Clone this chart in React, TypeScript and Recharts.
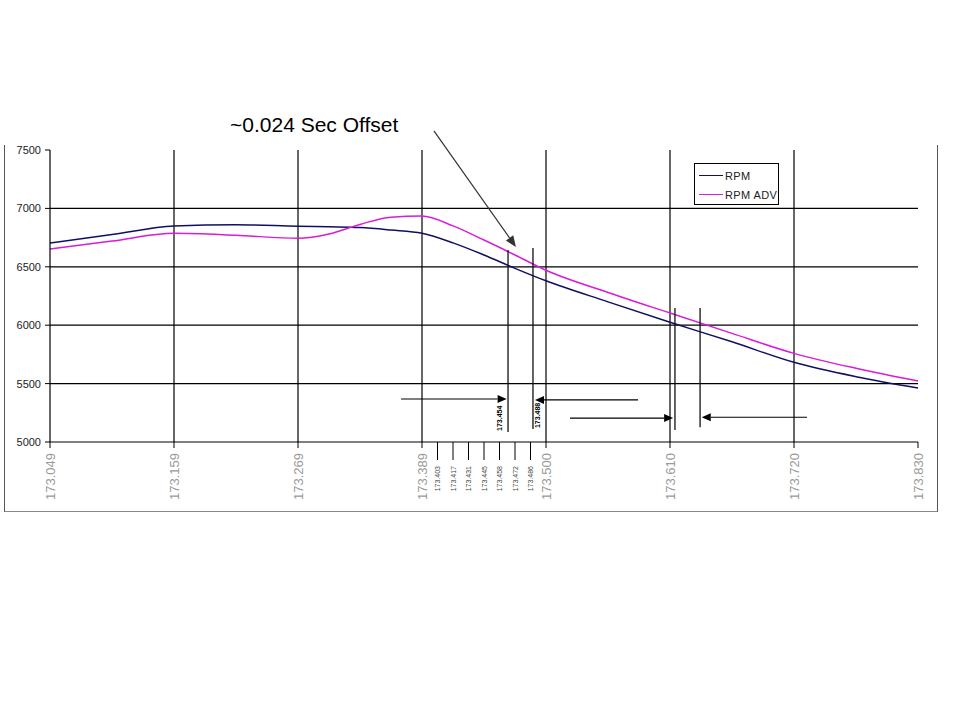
import React from 'react'
import { LineChart, Line, XAxis, YAxis, CartesianGrid, ReferenceLine } from 'recharts'

// sample index along the run (one sample ~ 0.0139 s), RPM
const sampleIdx = [0, 4, 8, 12, 16, 18, 20, 22, 24, 26, 28, 30, 32, 36, 40, 44, 48, 52, 56]
const rpm = [6704, 6776, 6849, 6860, 6847, 6842, 6836, 6815, 6787, 6705, 6601, 6487, 6380, 6200, 6025, 5858, 5682, 5559, 5462]
const rpmAdv = [6652, 6720, 6787, 6770, 6744, 6781, 6863, 6925, 6935, 6850, 6729, 6601, 6470, 6280, 6104, 5930, 5759, 5631, 5522]

const majorTicks = [0, 8, 16, 24, 32, 40, 48, 56]
const majorLabels = ['173.049', '173.159', '173.269', '173.389', '173.500', '173.610', '173.720', '173.830']
const minorTicks = [25, 26, 27, 28, 29, 30, 31]
const minorLabels = ['173.403', '173.417', '173.431', '173.445', '173.458', '173.472', '173.486']

const yTicks = [5000, 5500, 6000, 6500, 7000, 7500]
const gridY = [5500, 6000, 6500, 7000]
const gridX = [8, 16, 24, 32, 40, 48]

// annotation markers (vertical lines) and horizontal arrows
const markerIdx = [29.55, 31.16, 40.32, 41.94]
const markerTop = [6644, 6660, 6147, 6147]
const markerBottom = [5086, 5111, 5103, 5127]
const markerLabels = ['173.454', '173.488', '', '']
const arrowFrom = [22.65, 37.94, 33.55, 48.84]
const arrowTo = [29.46, 31.29, 40.2, 42.05]
const arrowRpm = [5368, 5360, 5205, 5212]
const offsetArrow = [{ x: 24.77, y: 7663 }, { x: 30.06, y: 6670 }]

const seriesNames = ['RPM', 'RPM ADV']
const seriesColors = ['#101060', '#d81cd8']

const chartData = sampleIdx.map((idx, i) => ({ idx, rpm: rpm[i], rpmAdv: rpmAdv[i] }))
const allTicks = [...majorTicks, ...minorTicks].sort((a, b) => a - b)

const FONT = "'Liberation Sans', Arial, sans-serif"

function XTick(props: any) {
  const { x, y, payload } = props
  const mi = majorTicks.indexOf(payload.value)
  if (mi >= 0) {
    const ty = y + 11
    return (
      <g>
        <line x1={x} y1={y} x2={x} y2={y + 6} stroke="#000" />
        <text x={x} y={ty} transform={`rotate(-90, ${x}, ${ty})`} textAnchor="end" dominantBaseline="central"
          fontSize={13} fill="#9a9a9a" fontFamily={FONT}>{majorLabels[mi]}</text>
      </g>
    )
  }
  const ni = minorTicks.indexOf(payload.value)
  const ty = y + 24
  return (
    <g>
      <line x1={x} y1={y} x2={x} y2={y + 18} stroke="#000" />
      <text x={x} y={ty} transform={`rotate(-90, ${x}, ${ty})`} textAnchor="end" dominantBaseline="central"
        fontSize={7} fill="#444" fontFamily={FONT}>{minorLabels[ni]}</text>
    </g>
  )
}

function arrowShape(color: string, len: number, half: number) {
  return (p: any) => {
    const { x1, y1, x2, y2 } = p
    const a = Math.atan2(y2 - y1, x2 - x1)
    const bx = x2 - len * Math.cos(a)
    const by = y2 - len * Math.sin(a)
    const nx = -Math.sin(a) * half
    const ny = Math.cos(a) * half
    return (
      <g>
        <line x1={x1} y1={y1} x2={bx} y2={by} stroke={color} strokeWidth={1.2} />
        <polygon points={`${x2},${y2} ${bx + nx},${by + ny} ${bx - nx},${by - ny}`} fill={color} />
      </g>
    )
  }
}

function markerShape(label: string, side: number) {
  return (p: any) => {
    const { x1, y1, x2, y2 } = p
    const bottom = Math.max(y1, y2)
    const tx = x1 + side
    const ty = bottom - 1
    return (
      <g>
        <line x1={x1} y1={y1} x2={x2} y2={y2} stroke="#111" strokeWidth={1.3} />
        {label && (
          <text x={tx} y={ty} transform={`rotate(-90, ${tx}, ${ty})`} textAnchor="start" dominantBaseline="central"
            fontSize={7} fontWeight="bold" fill="#000" fontFamily={FONT}>{label}</text>
        )}
      </g>
    )
  }
}

function LegendBox() {
  return (
    <div style={{ position: 'absolute', left: 694, top: 163, border: '1px solid #000', background: '#fff', width: 85,
      height: 42, boxSizing: 'border-box', paddingTop: 2 }}>
      {seriesNames.map((name, i) => (
        <div key={name} style={{ display: 'flex', alignItems: 'center', height: 19, whiteSpace: 'nowrap' }}>
          <div style={{ width: 24, height: 0, borderTop: `1.5px solid ${seriesColors[i]}`, marginLeft: 4, marginRight: 2 }} />
          <span style={{ fontFamily: FONT, fontSize: 11, letterSpacing: 0.4, color: '#222', lineHeight: '12px' }}>{name}</span>
        </div>
      ))}
    </div>
  )
}

export default function App() {
  return (
    <div style={{ position: 'absolute', left: 0, top: 0, width: 960, height: 720, background: '#fff' }}>
      <div style={{ position: 'absolute', left: 4, top: 145, width: 934, height: 367, boxSizing: 'border-box',
        borderLeft: '1px solid #555', borderRight: '1px solid #555', borderBottom: '1px solid #888' }} />
      <div style={{ position: 'absolute', left: 230, top: 113, fontFamily: FONT, fontSize: 21, lineHeight: '24px', color: '#000', whiteSpace: 'nowrap' }}>
        ~0.024 Sec Offset
      </div>
      <div style={{ position: 'absolute', left: 0, top: 0 }}>
        <LineChart width={960} height={720} data={chartData} margin={{ top: 150, right: 42, bottom: 218, left: 10 }}>
          <CartesianGrid stroke="#000" strokeWidth={1.2} horizontalValues={gridY} verticalValues={gridX} />
          <XAxis dataKey="idx" type="number" domain={[0, 56]} ticks={allTicks} interval={0} tick={<XTick />}
            tickSize={0} tickMargin={0} tickLine={false} height={60} axisLine={{ stroke: '#000', strokeWidth: 1.2 }} />
          <YAxis domain={[5000, 7500]} ticks={yTicks} width={40} tickSize={5} tickMargin={4}
            tick={{ fontSize: 11, fill: '#222', fontFamily: FONT }} tickLine={{ stroke: '#000' }}
            axisLine={{ stroke: '#000', strokeWidth: 1.2 }} allowDataOverflow />
          <Line type="monotone" dataKey="rpm" name={seriesNames[0]} stroke={seriesColors[0]} strokeWidth={1.5} dot={false} isAnimationActive={false} />
          <Line type="monotone" dataKey="rpmAdv" name={seriesNames[1]} stroke={seriesColors[1]} strokeWidth={1.5} dot={false} isAnimationActive={false} />
          {markerIdx.map((mx, i) => (
            <ReferenceLine key={'m' + i} segment={[{ x: mx, y: markerTop[i] }, { x: mx, y: markerBottom[i] }]}
              ifOverflow="visible" shape={markerShape(markerLabels[i], i === 0 ? -9 : 5)} />
          ))}
          {arrowFrom.map((ax, i) => (
            <ReferenceLine key={'a' + i} segment={[{ x: ax, y: arrowRpm[i] }, { x: arrowTo[i], y: arrowRpm[i] }]}
              ifOverflow="visible" shape={arrowShape('#000', 9, 4)} />
          ))}
          <ReferenceLine segment={offsetArrow} ifOverflow="visible" shape={arrowShape('#333', 11, 4.5)} />
        </LineChart>
      </div>
      <LegendBox />
    </div>
  )
}
